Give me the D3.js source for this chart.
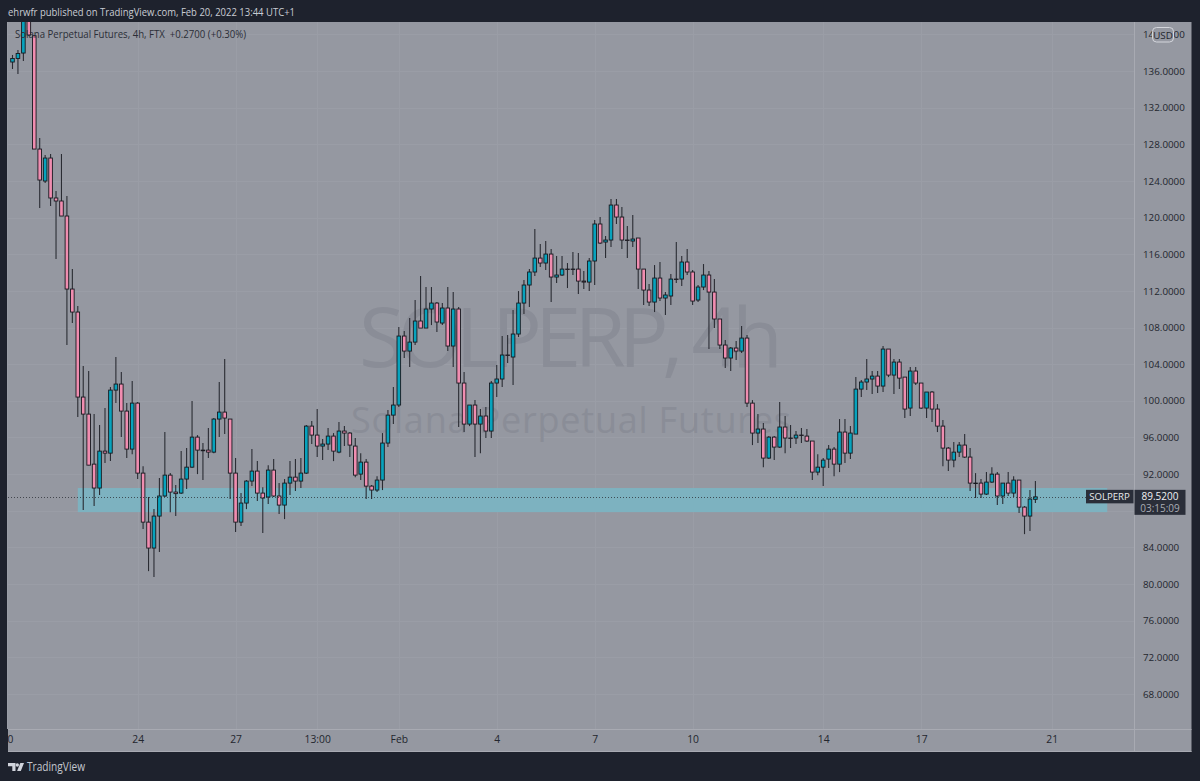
<!DOCTYPE html>
<html>
<head>
<meta charset="utf-8">
<title>SOLPERP 4h</title>
<script src="https://cdn.jsdelivr.net/npm/d3@7/dist/d3.min.js"></script>
<style>
html,body{margin:0;padding:0;background:#1e222d;overflow:hidden}
svg{display:block}
text{font-family:"Open Sans","DejaVu Sans",sans-serif}
</style>
</head>
<body>
<svg id="chart" width="1200" height="781"></svg>
<script>
// 4h SOLPERP candles, oldest first
const opens = [
136.98,137.36,137.96,142.22,139.85,127.48,123.99,126.50,122.14,121.81,
120.17,112.20,109.69,100.41,98.55,93.09,90.48,94.51,94.29,101.17,
101.83,98.88,94.73,99.75,92.11,86.76,83.93,87.42,89.61,91.89,
90.04,89.93,91.46,92.76,96.04,94.62,94.62,94.40,98.01,98.77,
98.01,92.11,86.76,88.84,91.24,92.33,89.93,89.50,92.44,89.61,
88.62,91.02,91.67,91.24,92.11,97.24,96.26,95.06,95.28,96.15,
94.40,96.70,96.48,95.06,92.00,93.31,90.69,90.26,91.35,95.39,
98.44,99.54,107.07,105.43,106.41,108.71,107.94,110.02,110.67,108.49,
110.13,105.98,110.02,101.94,97.46,99.54,97.46,98.34,96.70,101.94,
102.38,105.00,104.78,107.29,110.67,112.64,114.06,115.58,115.04,116.02,
113.51,113.73,114.38,114.38,114.38,113.07,112.96,115.26,119.30,117.33,
117.55,121.37,120.06,117.55,117.44,117.77,114.38,112.09,110.78,113.40,
111.22,111.44,113.29,113.29,115.15,114.06,111.00,112.42,113.73,111.87,
108.93,106.09,104.67,105.76,105.43,106.85,99.75,96.48,96.92,93.75,
96.04,94.95,97.14,95.94,95.94,96.26,96.15,95.61,92.22,92.76,
93.64,94.73,93.09,96.59,94.29,96.37,101.28,102.05,102.38,102.70,
101.61,105.65,102.81,104.23,102.59,99.21,103.25,101.94,99.21,100.96,
99.10,97.24,94.84,93.53,94.40,95.17,93.86,91.02,91.02,89.82,
91.13,92.00,89.61,91.02,89.93,91.35,88.40,87.42,89.25];
const closes = [
137.36,137.91,142.22,139.93,127.48,124.10,126.50,122.14,121.81,120.17,
112.20,109.69,100.41,98.55,92.98,90.48,94.51,94.29,101.17,101.83,
98.88,94.73,99.75,92.11,86.76,83.93,87.42,89.61,91.89,90.04,
89.87,91.46,92.76,96.04,94.62,94.55,94.40,98.01,98.77,98.12,
92.11,86.76,88.84,91.24,92.33,89.93,89.39,92.44,89.61,88.62,
91.02,91.67,91.24,92.11,97.24,96.26,95.06,95.28,96.15,94.51,
96.70,96.48,95.17,91.89,93.31,90.69,90.26,91.35,95.39,98.44,
99.54,107.07,105.43,106.41,108.71,107.94,110.02,110.67,108.60,110.13,
105.98,110.02,101.94,97.46,99.54,97.46,98.34,96.70,101.94,102.38,
105.00,104.95,107.29,110.67,112.64,114.06,115.58,115.04,116.02,113.51,
113.73,114.38,114.33,114.33,113.07,112.96,115.26,119.30,117.22,117.55,
121.37,120.06,117.55,117.50,117.66,114.38,112.09,110.78,113.40,111.22,
111.55,113.29,113.24,115.15,114.06,110.89,112.42,113.73,111.87,108.93,
106.09,104.67,105.76,105.43,106.85,99.75,96.48,96.92,93.75,96.04,
94.95,97.14,95.94,95.89,96.26,96.21,95.61,92.22,92.76,93.53,
94.73,93.09,96.59,94.29,96.48,101.28,102.05,102.38,102.70,101.61,
105.65,102.81,104.23,102.48,99.10,103.25,101.94,99.21,100.96,99.10,
97.24,94.84,93.53,94.40,95.17,93.86,91.02,90.97,89.82,91.13,
92.00,89.61,91.02,89.93,91.35,88.40,87.42,89.28,89.52];
const highs = [
137.75,138.29,143.20,142.88,139.93,128.68,126.83,126.94,122.90,126.94,
122.35,114.38,110.34,103.80,103.25,98.55,97.35,99.21,101.50,104.78,
103.14,99.75,102.16,99.86,92.87,89.50,88.18,91.57,96.59,92.11,
90.80,94.51,94.84,99.97,96.26,95.39,97.03,98.12,102.05,104.56,
98.01,93.75,89.93,91.35,94.73,93.42,90.58,92.98,93.64,91.02,
91.46,93.42,93.64,93.75,97.35,97.79,99.10,95.83,97.03,96.48,
97.68,97.24,96.59,95.94,94.29,93.64,90.80,91.78,96.48,98.99,
101.50,108.05,107.61,109.03,111.00,113.62,112.42,112.42,110.78,110.67,
112.42,111.87,110.24,103.14,99.54,100.08,99.10,99.32,102.16,103.90,
107.07,107.18,109.91,111.98,113.18,114.38,118.75,117.11,117.44,116.57,
115.80,115.80,115.04,116.24,116.13,114.16,115.58,119.73,120.06,117.99,
122.03,122.03,121.15,119.08,120.28,117.77,114.38,112.75,114.82,115.15,
111.87,113.84,117.33,115.80,116.57,114.27,112.64,114.93,114.16,113.29,
108.93,106.63,105.87,106.52,108.16,107.18,100.08,98.55,97.57,96.15,
96.15,99.86,98.34,97.35,96.70,97.03,96.92,95.61,94.18,93.75,
95.17,94.95,98.01,98.01,97.24,102.59,102.27,104.56,103.25,103.25,
105.98,105.65,104.56,104.56,102.59,103.69,103.69,101.94,100.96,101.06,
99.64,97.90,94.95,95.50,95.50,96.37,94.84,92.11,91.46,92.22,
92.76,92.22,91.02,92.22,91.78,91.35,88.51,90.26,91.24];
const lows = [
136.22,135.67,137.09,139.82,127.48,121.04,123.77,121.26,115.47,120.17,
106.09,108.49,98.23,88.07,92.98,88.51,89.71,93.20,93.42,99.75,
96.04,93.75,94.18,91.46,86.00,81.41,80.76,83.49,89.50,87.85,
87.42,89.82,90.37,92.66,92.00,91.35,93.75,94.29,96.04,96.37,
89.28,85.67,86.33,88.18,90.69,89.06,85.56,88.73,89.50,87.64,
87.09,89.71,90.15,90.48,92.00,95.28,93.86,93.53,94.62,93.42,
94.29,95.06,93.86,91.67,91.35,89.28,89.28,90.04,90.26,94.95,
97.46,99.32,104.67,103.69,106.09,107.94,107.94,108.27,107.51,108.27,
105.43,103.69,97.14,96.59,97.24,93.86,94.29,95.94,95.94,100.41,
101.50,104.12,101.72,106.96,109.47,110.24,113.62,114.60,114.27,110.78,
112.85,113.62,112.31,113.73,111.65,112.20,111.98,112.64,117.11,115.58,
116.79,119.30,116.57,115.58,116.79,112.20,110.45,110.34,109.69,110.89,
109.36,110.45,112.85,112.53,113.73,110.45,110.78,112.09,105.65,107.94,
105.65,103.58,103.25,104.45,105.21,99.32,95.17,95.39,92.76,93.64,
93.53,94.84,94.29,94.84,95.28,95.39,95.50,91.35,91.89,90.69,
92.66,91.78,92.22,93.20,93.64,96.37,100.41,101.17,100.74,100.85,
100.96,102.59,100.74,101.28,98.12,98.34,101.72,99.10,98.12,97.68,
96.59,92.87,92.33,92.76,93.86,93.75,90.15,89.39,89.39,89.71,
91.02,88.62,88.73,89.61,89.50,87.75,85.45,85.78,88.84];

// 88 has a grid line, but its label would sit under the last price tag
const priceGridTicks = [140,136,132,128,124,120,116,112,108,104,100,96,92,88,84,80,76,72,68];
const priceTicks = [140,136,132,128,124,120,116,112,108,104,100,96,92,84,80,76,72,68];
const timeTickBars = [-1,23,41,56,71,89,107,125,149,167,191];
const timeTickLabels = ["20","24","27","13:00","Feb","4","7","10","14","17","21"];

// Support zone drawn on the chart
const zoneTop = 90.48, zoneBottom = 87.85, zoneStartBar = 12, zoneEndBar = 201.2;
const lastPrice = 89.52;

const headerText = "ehrwfr published on TradingView.com, Feb 20, 2022 13:44 UTC+1";
const legendText = "Solana Perpetual Futures, 4h, FTX  +0.2700 (+0.30%)";

const pane = {left: 8, top: 22, right: 1134, bottom: 729};
const outer = {right: 1191.5, bottom: 752};
const colors = {
  page: "#1e222d", panel: "#9598a1", grid: "#9a9da6", border: "#a8aab2",
  up: "#07a3bd", down: "#f08db0", ink: "#17191f", zone: "#7db2c0",
  mark: "#8a8d97", axisText: "#23262e"
};

const x = d3.scaleLinear().domain([0, 188]).range([12.5, 1035.4]);
const y = d3.scaleLinear().domain([136, 68]).range([71, 694]);

const svg = d3.select("#chart");
svg.append("rect").attr("width", 1200).attr("height", 781).attr("fill", colors.page);
svg.append("rect")
  .attr("x", pane.left).attr("y", pane.top)
  .attr("width", outer.right - pane.left).attr("height", outer.bottom - pane.top)
  .attr("fill", colors.panel);

svg.append("defs").append("clipPath").attr("id", "paneClip").append("rect")
  .attr("x", pane.left).attr("y", pane.top)
  .attr("width", pane.right - pane.left).attr("height", pane.bottom - pane.top);

// Grid
const grid = svg.append("g").attr("stroke", colors.grid).attr("stroke-width", 1);
grid.selectAll("line.h").data(priceGridTicks).join("line").attr("class", "h")
  .attr("x1", pane.left).attr("x2", pane.right)
  .attr("y1", d => Math.round(y(d)) + 0.5).attr("y2", d => Math.round(y(d)) + 0.5);
grid.selectAll("line.v").data(timeTickBars).join("line").attr("class", "v")
  .attr("x1", d => Math.round(x(d)) + 0.5).attr("x2", d => Math.round(x(d)) + 0.5)
  .attr("y1", pane.top).attr("y2", pane.bottom);

// Symbol watermark
const watermark = svg.append("g").attr("fill", colors.mark).attr("text-anchor", "middle");
watermark.append("text").attr("x", 571).attr("y", 367)
  .attr("font-size", 83).attr("textLength", 424).attr("lengthAdjust", "spacing")
  .text("SOLPERP, 4h");
watermark.append("text").attr("x", 571).attr("y", 433)
  .attr("font-size", 36).attr("textLength", 440).attr("lengthAdjust", "spacing")
  .text("Solana Perpetual Futures");

const plot = svg.append("g").attr("clip-path", "url(#paneClip)");

// Zone sits under the candles
plot.append("rect")
  .attr("x", x(zoneStartBar)).attr("width", x(zoneEndBar) - x(zoneStartBar))
  .attr("y", y(zoneTop)).attr("height", y(zoneBottom) - y(zoneTop))
  .attr("fill", colors.zone);

// Candles
const bars = d3.range(opens.length);
plot.append("g").attr("stroke", "#2a2c33").attr("stroke-width", 1.1)
  .selectAll("line").data(bars).join("line")
  .attr("x1", i => x(i)).attr("x2", i => x(i))
  .attr("y1", i => y(highs[i])).attr("y2", i => y(lows[i]));

plot.append("g").attr("stroke", colors.ink).attr("stroke-width", 0.9)
  .selectAll("rect").data(bars).join("rect")
  .attr("x", i => x(i) - 1.8).attr("width", 3.6)
  .attr("y", i => y(Math.max(opens[i], closes[i])))
  .attr("height", i => Math.abs(y(opens[i]) - y(closes[i])))
  .attr("fill", i => closes[i] >= opens[i] ? colors.up : colors.down);

// Last price line
plot.append("line")
  .attr("x1", pane.left).attr("x2", 1087)
  .attr("y1", Math.round(y(lastPrice)) + 0.5).attr("y2", Math.round(y(lastPrice)) + 0.5)
  .attr("stroke", "#2a2c33").attr("stroke-opacity", 0.75).attr("stroke-width", 1).attr("stroke-dasharray", "1 2");

// Pane separators
const sep = svg.append("g").attr("stroke", colors.border).attr("stroke-width", 1);
sep.append("line").attr("x1", pane.right + 0.5).attr("x2", pane.right + 0.5)
  .attr("y1", pane.top).attr("y2", outer.bottom);
sep.append("line").attr("x1", pane.left).attr("x2", outer.right)
  .attr("y1", pane.bottom + 0.5).attr("y2", pane.bottom + 0.5);
sep.append("line").attr("x1", pane.left).attr("x2", outer.right)
  .attr("y1", outer.bottom - 0.5).attr("y2", outer.bottom - 0.5);

// Price axis
const priceAxis = d3.axisRight(y).tickValues(priceTicks).tickSize(0).tickPadding(9)
  .tickFormat(d3.format(".4f"));
const priceG = svg.append("g").attr("transform", `translate(${pane.right},0)`).call(priceAxis);
priceG.select(".domain").remove();
priceG.selectAll("text").attr("fill", colors.axisText).attr("font-size", 9.8)
  .style("font-family", '"Open Sans",sans-serif');

// Time axis, clipped so the leading label is cut at the pane edge
svg.select("defs").append("clipPath").attr("id", "timeClip").append("rect")
  .attr("x", pane.left).attr("y", pane.bottom).attr("width", pane.right - pane.left).attr("height", 24);
const timeAxis = d3.axisBottom(x).tickValues(timeTickBars).tickSize(0).tickPadding(7)
  .tickFormat((d, i) => timeTickLabels[i]);
const timeG = svg.append("g").attr("clip-path", "url(#timeClip)")
  .append("g").attr("transform", `translate(0,${pane.bottom})`).call(timeAxis);
timeG.select(".domain").remove();
timeG.selectAll("text").attr("fill", colors.axisText).attr("font-size", 10.3)
  .style("font-family", '"Open Sans",sans-serif');

// Currency badge over the top tick
svg.append("rect").attr("x", 1152.5).attr("y", 27.5).attr("width", 21).attr("height", 14.5).attr("rx", 4)
  .attr("fill", colors.panel).attr("stroke", "#d4d6dc").attr("stroke-width", 1);
svg.append("text").attr("x", 1163).attr("y", 38.5).attr("text-anchor", "middle")
  .attr("font-size", 9.8).attr("fill", colors.axisText).text("USD");

// Last price tags
const tagY = y(lastPrice);
svg.append("rect").attr("x", 1086).attr("y", tagY - 7).attr("width", 47.5).attr("height", 13.5).attr("fill", "#2a2e39");
svg.append("text").attr("x", 1109.5).attr("y", tagY + 3.5).attr("text-anchor", "middle")
  .attr("font-size", 9.6).attr("fill", "#e8e9ec").text("SOLPERP");
svg.append("rect").attr("x", 1134.5).attr("y", tagY - 7).attr("width", 51).attr("height", 25).attr("fill", "#2a2e39");
svg.append("text").attr("x", 1160).attr("y", tagY + 3.5).attr("text-anchor", "middle")
  .attr("font-size", 10).attr("fill", "#f0f1f3").text(d3.format(".4f")(lastPrice));
svg.append("text").attr("x", 1160).attr("y", tagY + 15.5).attr("text-anchor", "middle")
  .attr("font-size", 10).attr("fill", "#a9acb5").text("03:15:09");

// Header and legend
svg.append("text").attr("x", 8).attr("y", 16).attr("font-size", 11.3).attr("fill", "#c9ccd4")
  .attr("textLength", 287).attr("lengthAdjust", "spacingAndGlyphs").text(headerText);
svg.append("text").attr("x", 15).attr("y", 38).attr("font-size", 10.5).attr("fill", "#2b2e37")
  .attr("textLength", 231).attr("lengthAdjust", "spacingAndGlyphs").style("white-space", "pre").text(legendText);

// Footer brand
const brand = svg.append("g").attr("fill", "#d1d4dc");
brand.append("path").attr("d", "M8 763h7.5v8h-3.2v-4.8H8z");
brand.append("circle").attr("cx", 17.3).attr("cy", 765).attr("r", 1.7);
brand.append("path").attr("d", "M20.3 763H24l-3.2 8h-3.7z");
svg.append("text").attr("x", 27).attr("y", 771).attr("font-size", 12).attr("fill", "#c4c7cf")
  .attr("textLength", 58).attr("lengthAdjust", "spacingAndGlyphs").text("TradingView");
</script>
</body>
</html>
